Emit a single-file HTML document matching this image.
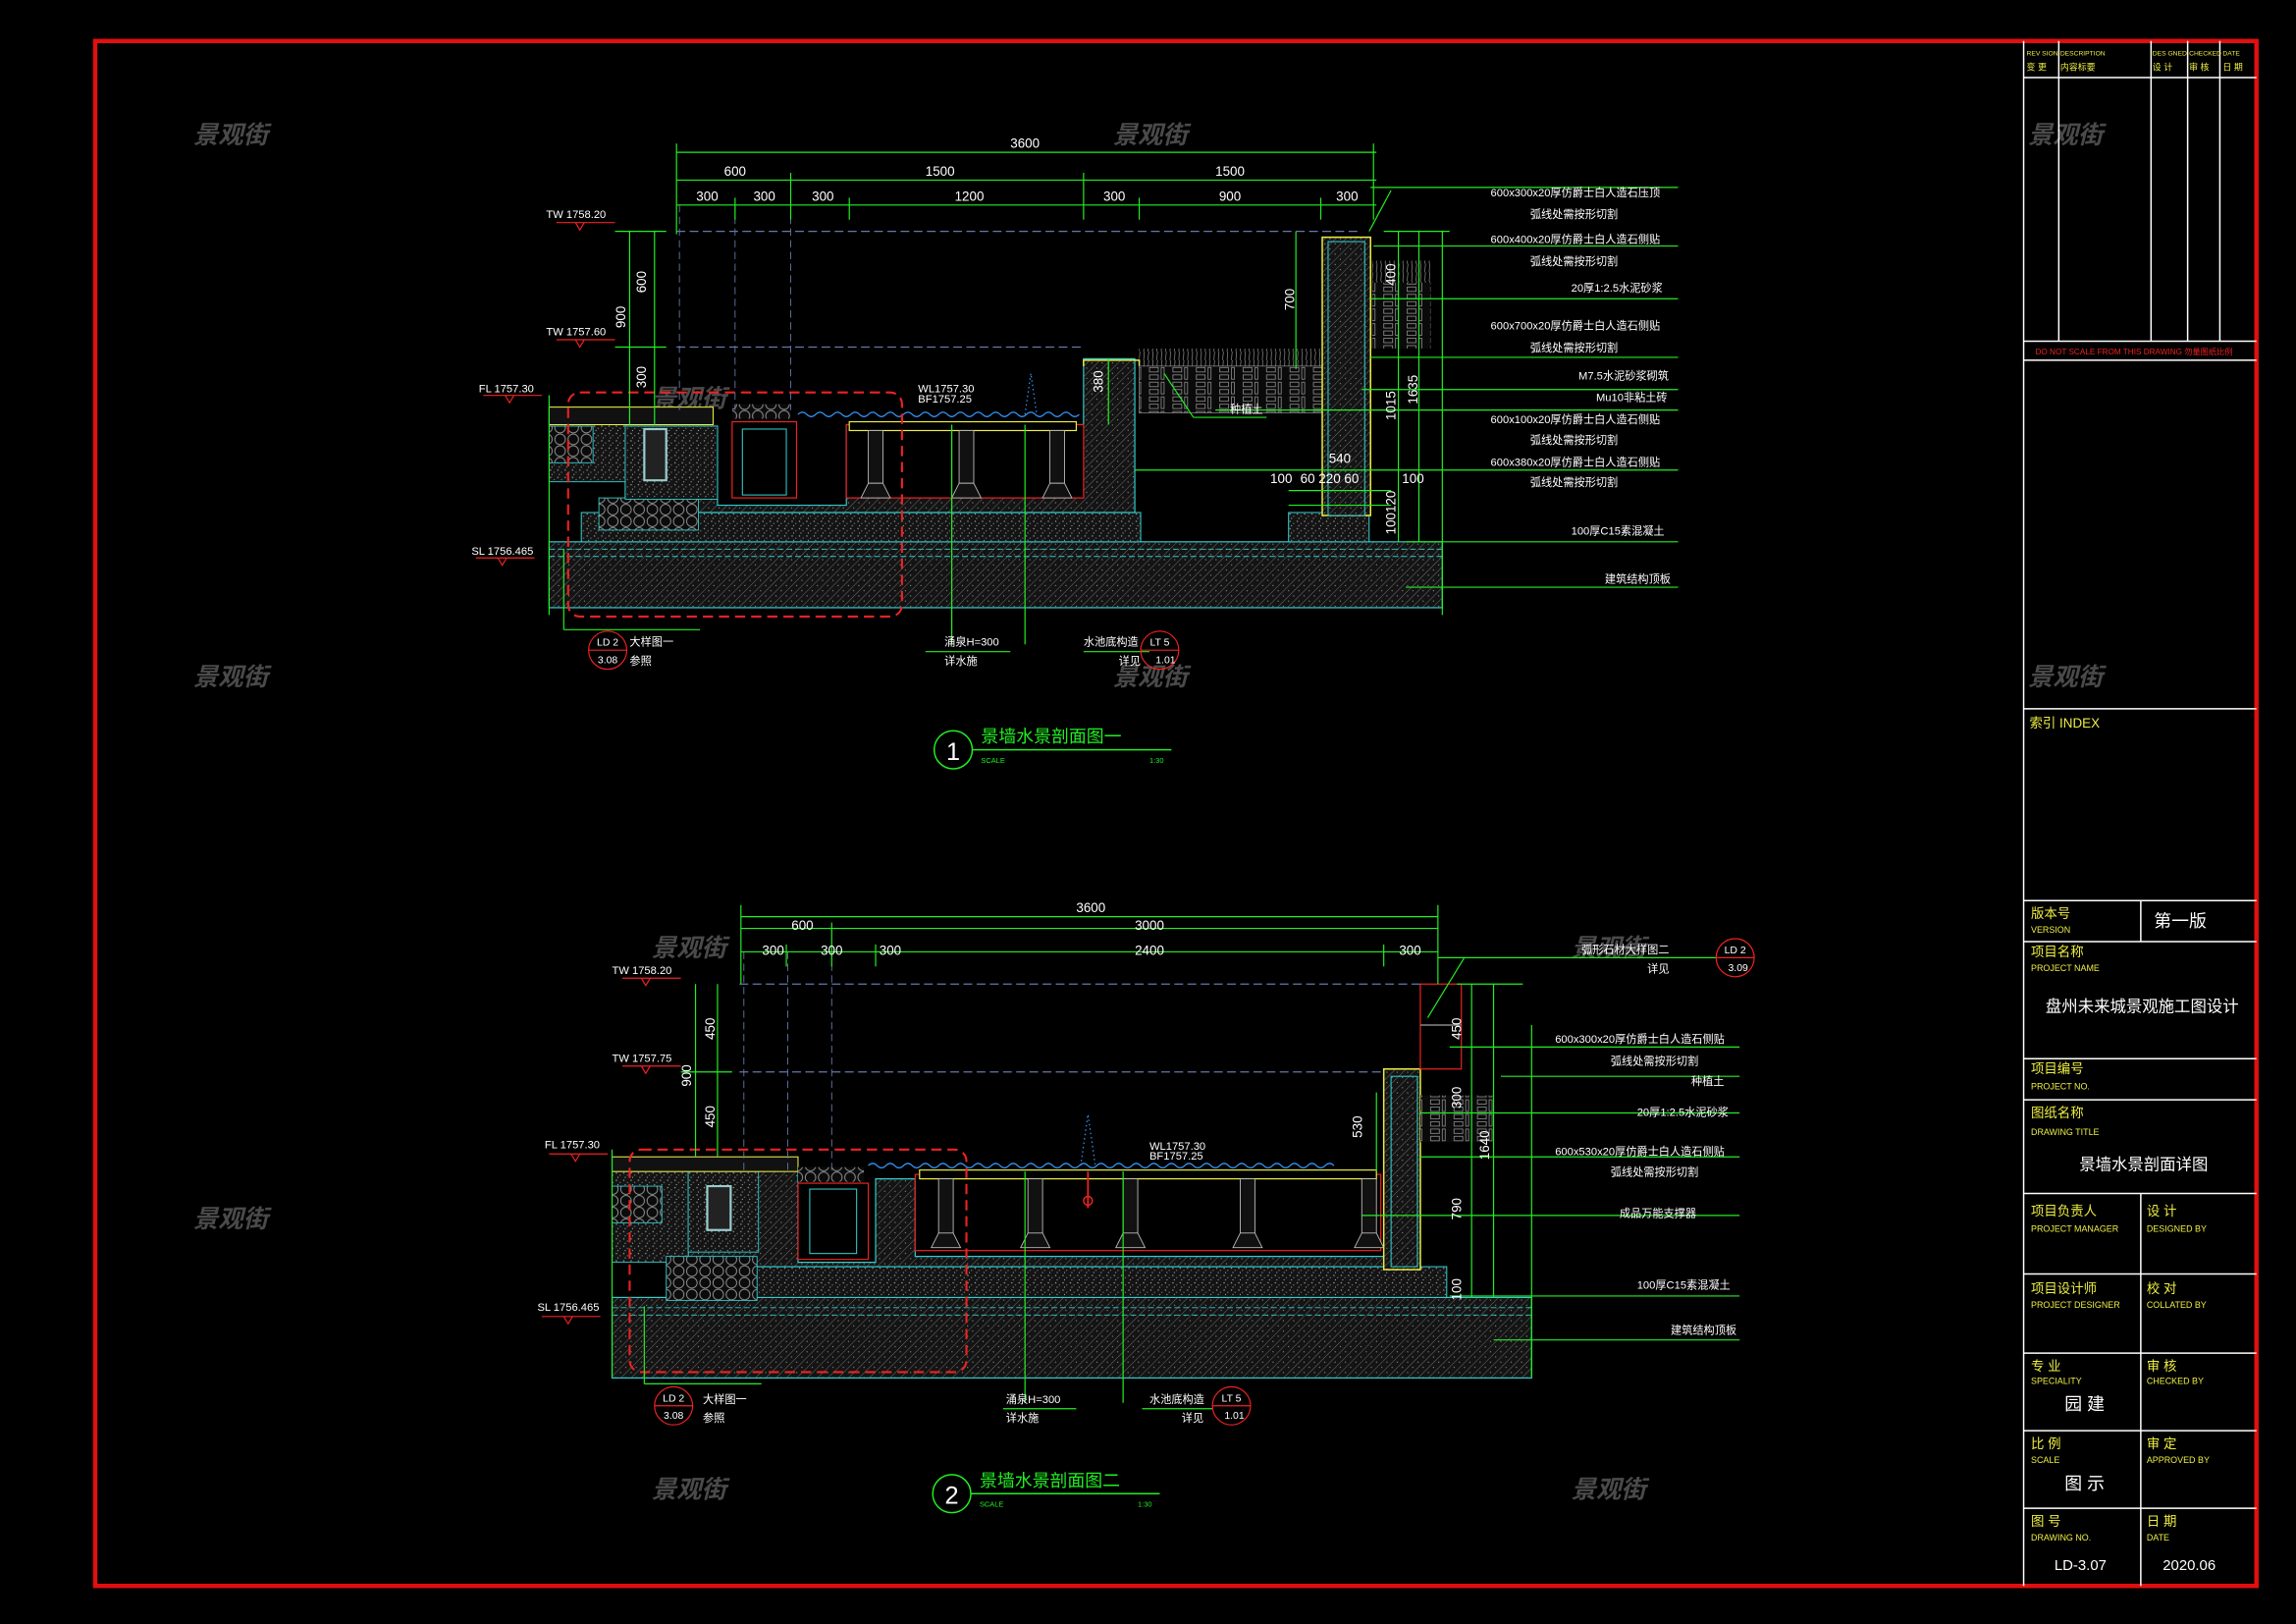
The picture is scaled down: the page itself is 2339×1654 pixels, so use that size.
<!DOCTYPE html>
<html><head><meta charset="utf-8"><style>
html,body{margin:0;padding:0;background:#000;}
svg{display:block;}
text{font-family:"Liberation Sans","Noto Sans CJK SC",sans-serif;}
</style></head><body>
<svg width="2339" height="1654" viewBox="0 0 1568 1109" preserveAspectRatio="none" xmlns="http://www.w3.org/2000/svg">
<defs>
<pattern id="h" width="5" height="5" patternUnits="userSpaceOnUse" patternTransform="rotate(45)">
<rect width="5" height="5" fill="#141414"/><line x1="0" y1="0" x2="0" y2="5" stroke="#777" stroke-width="0.6"/><circle cx="2.5" cy="3" r="0.4" fill="#999"/></pattern>
<pattern id="c" width="5" height="5" patternUnits="userSpaceOnUse">
<rect width="5" height="5" fill="#141414"/><circle cx="1" cy="1" r="0.5" fill="#999"/><circle cx="3.5" cy="2.5" r="0.4" fill="#888"/><circle cx="2" cy="4" r="0.4" fill="#aaa"/></pattern>
<pattern id="g" width="9" height="8" patternUnits="userSpaceOnUse">
<rect width="9" height="8" fill="#0b0b0b"/><circle cx="4.5" cy="4" r="3.6" fill="none" stroke="#999" stroke-width="0.6"/></pattern>
<pattern id="b" width="16" height="10" patternUnits="userSpaceOnUse">
<rect width="16" height="10" fill="#0a0a0a"/><rect x="1" y="1" width="6" height="3" fill="none" stroke="#999" stroke-width="0.5"/><rect x="9" y="1" width="2" height="8" fill="none" stroke="#999" stroke-width="0.5"/><rect x="1" y="6" width="6" height="3" fill="none" stroke="#999" stroke-width="0.5"/></pattern>
<pattern id="s" width="3" height="6" patternUnits="userSpaceOnUse"><line x1="1" y1="6" x2="1.5" y2="0" stroke="#aaa" stroke-width="0.4"/></pattern>
</defs>
<rect width="1568" height="1109" fill="#000"/>
<g fill="#4a4a4a" font-size="17" font-style="italic" font-weight="bold">
<text x="132" y="98">景观街</text><text x="760" y="98">景观街</text><text x="1385" y="98">景观街</text>
<text x="132" y="468">景观街</text><text x="760" y="468">景观街</text><text x="1385" y="468">景观街</text>
<text x="445" y="278">景观街</text><text x="445" y="653">景观街</text><text x="1073" y="653">景观街</text>
<text x="132" y="838">景观街</text><text x="760" y="838">景观街</text>
<text x="445" y="1023">景观街</text><text x="1073" y="1023">景观街</text>
</g>
<rect x="65" y="28" width="1476" height="1055" fill="none" stroke="#e01010" stroke-width="3"/>
<g stroke="#fff" stroke-width="1" fill="none">
<line x1="1382" y1="28" x2="1382" y2="1083"/>
<line x1="1406" y1="28" x2="1406" y2="233"/><line x1="1469" y1="28" x2="1469" y2="233"/>
<line x1="1494" y1="28" x2="1494" y2="233"/><line x1="1516" y1="28" x2="1516" y2="233"/>
<line x1="1382" y1="53" x2="1541" y2="53"/><line x1="1382" y1="233" x2="1541" y2="233"/>
<line x1="1382" y1="246" x2="1541" y2="246"/>
<line x1="1382" y1="484" x2="1541" y2="484"/>
<line x1="1382" y1="615" x2="1541" y2="615"/><line x1="1382" y1="643" x2="1541" y2="643"/>
<line x1="1382" y1="723" x2="1541" y2="723"/><line x1="1382" y1="751" x2="1541" y2="751"/>
<line x1="1382" y1="815" x2="1541" y2="815"/><line x1="1382" y1="870" x2="1541" y2="870"/>
<line x1="1382" y1="924" x2="1541" y2="924"/><line x1="1382" y1="977" x2="1541" y2="977"/>
<line x1="1382" y1="1030" x2="1541" y2="1030"/>
<line x1="1462" y1="615" x2="1462" y2="643"/><line x1="1462" y1="815" x2="1462" y2="1083"/>
</g>
<g fill="#ee4" font-size="4.5">
<text x="1384" y="38">REV SION</text><text x="1407" y="38">DESCRIPTION</text><text x="1470" y="38">DES GNED</text><text x="1495" y="38">CHECKED</text><text x="1518" y="38">DATE</text>
<text x="1384" y="48" font-size="6">变 更</text><text x="1407" y="48" font-size="6">内容标要</text><text x="1470" y="48" font-size="6">设 计</text><text x="1495" y="48" font-size="6">审 核</text><text x="1518" y="48" font-size="6">日 期</text>
</g>
<text x="1390" y="242" fill="#e22" font-size="5.5">DO NOT SCALE FROM THIS DRAWING  勿量图纸比例</text>
<g fill="#ee4" font-size="9">
<text x="1386" y="497">索引 INDEX</text>
<text x="1387" y="627">版本号</text><text x="1387" y="653">项目名称</text><text x="1387" y="733">项目编号</text>
<text x="1387" y="763">图纸名称</text><text x="1387" y="830">项目负责人</text><text x="1466" y="830">设 计</text>
<text x="1387" y="883">项目设计师</text><text x="1466" y="883">校 对</text>
<text x="1387" y="936">专 业</text><text x="1466" y="936">审 核</text>
<text x="1387" y="989">比 例</text><text x="1466" y="989">审 定</text>
<text x="1387" y="1042">图 号</text><text x="1466" y="1042">日 期</text>
</g>
<g fill="#ee4" font-size="6">
<text x="1387" y="637">VERSION</text><text x="1387" y="663">PROJECT NAME</text><text x="1387" y="744">PROJECT NO.</text>
<text x="1387" y="775">DRAWING TITLE</text><text x="1387" y="841">PROJECT MANAGER</text><text x="1466" y="841">DESIGNED BY</text>
<text x="1387" y="893">PROJECT DESIGNER</text><text x="1466" y="893">COLLATED BY</text>
<text x="1387" y="945">SPECIALITY</text><text x="1466" y="945">CHECKED BY</text>
<text x="1387" y="999">SCALE</text><text x="1466" y="999">APPROVED BY</text>
<text x="1387" y="1052">DRAWING NO.</text><text x="1466" y="1052">DATE</text>
</g>
<g fill="#fff" font-size="12">
<text x="1471" y="633">第一版</text>
<text x="1397" y="691" font-size="11">盘州未来城景观施工图设计</text>
<text x="1420" y="799" font-size="11">景墙水景剖面详图</text>
<text x="1410" y="963">园 建</text><text x="1410" y="1017">图 示</text>
<text x="1403" y="1072" font-size="10">LD-3.07</text><text x="1477" y="1072" font-size="10">2020.06</text>
</g>

<g id="s1">
<rect x="375" y="370" width="610" height="45" fill="url(#h)" stroke="#3cc" stroke-width="0.8"/>
<line x1="375" y1="375" x2="985" y2="375" stroke="#3cc" stroke-width="0.6" stroke-dasharray="4 2"/>
<line x1="375" y1="380" x2="985" y2="380" stroke="#3cc" stroke-width="0.6" stroke-dasharray="4 2"/>
<rect x="397" y="350" width="382" height="20" fill="url(#c)" stroke="#3cc" stroke-width="0.7"/>
<rect x="880" y="350" width="55" height="20" fill="url(#c)" stroke="#3cc" stroke-width="0.7"/>
<path d="M427 291 H490 V345 H578 V290 H740 V245 H775 V350 H427 Z" fill="url(#h)" stroke="#3cc" stroke-width="0.8"/>
<rect x="375" y="289" width="52" height="40" fill="url(#c)" stroke="#3cc" stroke-width="0.6"/>
<rect x="375" y="291" width="30" height="25" fill="url(#g)" stroke="#3cc" stroke-width="0.6"/>
<rect x="409" y="340" width="68" height="22" fill="url(#g)" stroke="#3cc" stroke-width="0.6"/>
<rect x="427" y="291" width="63" height="50" fill="url(#c)" stroke="#3cc" stroke-width="0.6"/>
<path d="M440 293 h15 v35 h-15 z" fill="#222" stroke="#9cc" stroke-width="1.5"/>
<rect x="375" y="278" width="112" height="12" fill="#111" stroke="#ee4" stroke-width="0.7"/>
<rect x="500" y="276" width="40" height="10" fill="url(#g)"/>
<rect x="500" y="288" width="44" height="52" fill="#000" stroke="#e22" stroke-width="0.8"/>
<rect x="507" y="293" width="30" height="45" fill="#000" stroke="#3cc" stroke-width="0.7"/>
<rect x="578" y="290" width="162" height="50" fill="#000" stroke="#e22" stroke-width="0.8"/>
<rect x="580" y="288" width="155" height="6" fill="#000" stroke="#ee4" stroke-width="0.8"/>
<g fill="#111" stroke="#bbb" stroke-width="0.6">
<rect x="593" y="294" width="10" height="36"/><rect x="655" y="294" width="10" height="36"/><rect x="717" y="294" width="10" height="36"/>
<path d="M588 340 l5 -10 h10 l5 10z M650 340 l5 -10 h10 l5 10z M712 340 l5 -10 h10 l5 10z"/>
</g>
<path d="M545 283 q3 -3 6 0 t6 0 t6 0 t6 0 t6 0 t6 0 t6 0 t6 0 t6 0 t6 0 t6 0 t6 0 t6 0 t6 0 t6 0 t6 0 t6 0 t6 0 t6 0 t6 0 t6 0 t6 0 t6 0 t6 0 t6 0 t6 0 t6 0 t6 0 t6 0 t6 0 t6 0 t6 0" fill="none" stroke="#39f" stroke-width="0.8"/>
<path d="M700 283 l4 -28 l4 28" fill="none" stroke="#39f" stroke-width="0.8" stroke-dasharray="1 2"/>
<path d="M740 250 V246 H778 V250" fill="none" stroke="#ee4" stroke-width="1"/>
<rect x="778" y="250" width="125" height="32" fill="url(#b)" stroke="#888" stroke-width="0.5"/>
<rect x="778" y="238" width="125" height="12" fill="url(#s)"/>
<rect x="903" y="162" width="33" height="190" fill="url(#h)" stroke="#ee4" stroke-width="1"/>
<rect x="907" y="165" width="25" height="187" fill="url(#h)" stroke="#3cc" stroke-width="0.7"/>
<rect x="937" y="193" width="40" height="45" fill="url(#b)"/>
<rect x="937" y="178" width="40" height="15" fill="url(#s)"/>
<rect x="388" y="268" width="228" height="153" rx="8" fill="none" stroke="#e22" stroke-width="1.4" stroke-dasharray="7 4"/>
<line x1="462" y1="158" x2="930" y2="158" stroke="#67a" stroke-width="0.8" stroke-dasharray="6 3"/>
<line x1="462" y1="237" x2="740" y2="237" stroke="#67a" stroke-width="0.8" stroke-dasharray="6 3"/>
<g stroke="#67a" stroke-width="0.6" stroke-dasharray="5 3">
<line x1="502" y1="140" x2="502" y2="280"/><line x1="540" y1="140" x2="540" y2="280"/><line x1="464" y1="140" x2="464" y2="280"/>
</g>
<g stroke="#2e2" stroke-width="0.8" fill="none">
<line x1="462" y1="104" x2="940" y2="104"/><line x1="462" y1="123" x2="940" y2="123"/><line x1="462" y1="140" x2="940" y2="140"/>
<line x1="462" y1="98" x2="462" y2="160"/><line x1="540" y1="118" x2="540" y2="150"/><line x1="502" y1="135" x2="502" y2="150"/>
<line x1="580" y1="135" x2="580" y2="150"/><line x1="740" y1="118" x2="740" y2="150"/><line x1="778" y1="135" x2="778" y2="150"/>
<line x1="902" y1="135" x2="902" y2="150"/><line x1="938" y1="98" x2="938" y2="150"/>
<line x1="430" y1="158" x2="430" y2="290"/><line x1="447" y1="158" x2="447" y2="290"/>
<line x1="420" y1="237" x2="455" y2="237"/><line x1="420" y1="158" x2="455" y2="158"/>
<line x1="885" y1="158" x2="885" y2="252"/><line x1="757" y1="245" x2="757" y2="290"/>
<line x1="955" y1="158" x2="955" y2="370"/><line x1="969" y1="158" x2="969" y2="370"/><line x1="985" y1="158" x2="985" y2="420"/>
<line x1="945" y1="158" x2="990" y2="158"/>
<line x1="880" y1="335" x2="950" y2="335"/><line x1="880" y1="345" x2="950" y2="345"/>
<line x1="936" y1="128" x2="1146" y2="128"/><line x1="938" y1="168" x2="1146" y2="168"/>
<line x1="936" y1="204" x2="1146" y2="204"/><line x1="936" y1="244" x2="1146" y2="244"/>
<line x1="930" y1="266" x2="1146" y2="266"/><line x1="830" y1="280" x2="1146" y2="280"/>
<line x1="775" y1="321" x2="1146" y2="321"/><line x1="960" y1="370" x2="1146" y2="370"/>
<line x1="960" y1="401" x2="1146" y2="401"/>
<line x1="795" y1="255" x2="815" y2="285"/><line x1="815" y1="285" x2="865" y2="285"/>
<line x1="935" y1="158" x2="950" y2="130"/>
<line x1="385" y1="375" x2="385" y2="430"/><line x1="385" y1="430" x2="478" y2="430"/>
<line x1="650" y1="290" x2="650" y2="440"/><line x1="632" y1="445" x2="690" y2="445"/>
<line x1="700" y1="290" x2="700" y2="440"/><line x1="740" y1="445" x2="785" y2="445"/>
<line x1="375" y1="270" x2="375" y2="420"/>
</g>
<g fill="#fff" font-size="9" text-anchor="middle">
<text x="700" y="101">3600</text><text x="502" y="120">600</text><text x="642" y="120">1500</text><text x="840" y="120">1500</text>
<text x="483" y="137">300</text><text x="522" y="137">300</text><text x="562" y="137">300</text><text x="662" y="137">1200</text>
<text x="761" y="137">300</text><text x="840" y="137">900</text><text x="920" y="137">300</text>
<text x="915" y="316">540</text><text x="875" y="330">100</text><text x="908" y="330">60 220 60</text><text x="965" y="330">100</text>
</g>
<g fill="#fff" font-size="9">
<text transform="translate(441,200) rotate(-90)">600</text><text transform="translate(427,224) rotate(-90)">900</text>
<text transform="translate(441,265) rotate(-90)">300</text><text transform="translate(884,212) rotate(-90)">700</text>
<text transform="translate(753,268) rotate(-90)">380</text><text transform="translate(953,195) rotate(-90)">400</text>
<text transform="translate(953,287) rotate(-90)">1015</text><text transform="translate(968,276) rotate(-90)">1635</text>
<text transform="translate(953,365) rotate(-90)">100120</text>
</g>
<g fill="#fff" font-size="7.5">
<text x="373" y="149">TW 1758.20</text><text x="373" y="229">TW 1757.60</text><text x="327" y="268">FL 1757.30</text><text x="322" y="379">SL 1756.465</text>
<text x="627" y="268">WL1757.30</text><text x="627" y="275">BF1757.25</text>
<text x="840" y="282">种植土</text>
<text x="430" y="441">大样图一</text><text x="430" y="454">参照</text>
<text x="645" y="441">涌泉H=300</text><text x="645" y="454">详水施</text>
<text x="740" y="441">水池底构造</text><text x="764" y="454">详见</text>
</g>
<g stroke="#e22" fill="none" stroke-width="0.8">
<path d="M380 152 h40 M393 152 l3 5 l3 -5 M380 232 h40 M393 232 l3 5 l3 -5 M330 270 h40 M345 270 l3 5 l3 -5 M325 381 h40 M340 381 l3 5 l3 -5"/>
<circle cx="415" cy="444" r="13"/><line x1="402" y1="444" x2="428" y2="444"/>
<circle cx="792" cy="444" r="13"/><line x1="779" y1="444" x2="805" y2="444"/>
</g>
<g fill="#fff" font-size="7" text-anchor="middle">
<text x="415" y="441">LD 2</text><text x="415" y="453">3.08</text><text x="792" y="441">LT 5</text><text x="796" y="453">1.01</text>
</g>
<g fill="#fff" font-size="7.5">
<text x="1018" y="134">600x300x20厚仿爵士白人造石压顶</text><text x="1045" y="149">弧线处需按形切割</text>
<text x="1018" y="166">600x400x20厚仿爵士白人造石侧贴</text><text x="1045" y="181">弧线处需按形切割</text>
<text x="1073" y="199">20厚1:2.5水泥砂浆</text>
<text x="1018" y="225">600x700x20厚仿爵士白人造石侧贴</text><text x="1045" y="240">弧线处需按形切割</text>
<text x="1078" y="259">M7.5水泥砂浆砌筑</text><text x="1090" y="274">Mu10非粘土砖</text>
<text x="1018" y="289">600x100x20厚仿爵士白人造石侧贴</text><text x="1045" y="303">弧线处需按形切割</text>
<text x="1018" y="318">600x380x20厚仿爵士白人造石侧贴</text><text x="1045" y="332">弧线处需按形切割</text>
<text x="1073" y="365">100厚C15素混凝土</text><text x="1096" y="398">建筑结构顶板</text>
</g>
<circle cx="651" cy="512" r="13" fill="none" stroke="#2e2" stroke-width="1"/>
<text x="651" y="519" fill="#fff" font-size="17" text-anchor="middle">1</text>
<line x1="664" y1="512" x2="800" y2="512" stroke="#2e2"/>
<text x="670" y="507" fill="#2e2" font-size="12">景墙水景剖面图一</text>
<text x="670" y="521" fill="#2e2" font-size="5">SCALE</text><text x="785" y="521" fill="#2e2" font-size="5">1:30</text>
</g>

<g id="s2">
<rect x="418" y="886" width="628" height="55" fill="url(#h)" stroke="#3cc" stroke-width="0.8"/>
<line x1="418" y1="893" x2="1046" y2="893" stroke="#3cc" stroke-width="0.6" stroke-dasharray="4 2"/>
<line x1="418" y1="898" x2="1046" y2="898" stroke="#3cc" stroke-width="0.6" stroke-dasharray="4 2"/>
<rect x="508" y="865" width="480" height="21" fill="url(#c)" stroke="#3cc" stroke-width="0.7"/>
<path d="M470 797 H545 V862 H598 V805 H625 V858 H945 V740 H968 V865 H470 Z" fill="url(#h)" stroke="#3cc" stroke-width="0.8"/>
<rect x="418" y="800" width="52" height="62" fill="url(#c)" stroke="#3cc" stroke-width="0.6"/>
<rect x="418" y="810" width="34" height="25" fill="url(#g)" stroke="#3cc" stroke-width="0.6"/>
<rect x="455" y="858" width="62" height="30" fill="url(#g)" stroke="#3cc" stroke-width="0.6"/>
<rect x="470" y="800" width="48" height="55" fill="url(#c)" stroke="#3cc" stroke-width="0.6"/>
<path d="M483 810 h16 v30 h-16 z" fill="#222" stroke="#9cc" stroke-width="1.5"/>
<rect x="418" y="790" width="127" height="10" fill="#111" stroke="#ee4" stroke-width="0.7"/>
<rect x="545" y="797" width="45" height="10" fill="url(#g)"/>
<rect x="545" y="808" width="48" height="52" fill="#000" stroke="#e22" stroke-width="0.8"/>
<rect x="553" y="812" width="32" height="44" fill="#000" stroke="#3cc" stroke-width="0.7"/>
<rect x="625" y="802" width="318" height="52" fill="#000" stroke="#e22" stroke-width="0.8"/>
<rect x="628" y="799" width="312" height="6" fill="#000" stroke="#ee4" stroke-width="0.8"/>
<g fill="#111" stroke="#bbb" stroke-width="0.6">
<rect x="641" y="805" width="10" height="38"/><rect x="702" y="805" width="10" height="38"/><rect x="767" y="805" width="10" height="38"/><rect x="847" y="805" width="10" height="38"/><rect x="930" y="805" width="10" height="38"/>
<path d="M636 852 l5 -10 h10 l5 10z M697 852 l5 -10 h10 l5 10z M762 852 l5 -10 h10 l5 10z M842 852 l5 -10 h10 l5 10z M925 852 l5 -10 h10 l5 10z"/>
</g>
<path d="M593 796 q3 -3 6 0 t6 0 t6 0 t6 0 t6 0 t6 0 t6 0 t6 0 t6 0 t6 0 t6 0 t6 0 t6 0 t6 0 t6 0 t6 0 t6 0 t6 0 t6 0 t6 0 t6 0 t6 0 t6 0 t6 0 t6 0 t6 0 t6 0 t6 0 t6 0 t6 0 t6 0 t6 0 t6 0 t6 0 t6 0 t6 0 t6 0 t6 0 t6 0 t6 0 t6 0 t6 0 t6 0 t6 0 t6 0 t6 0 t6 0 t6 0 t6 0 t6 0 t6 0 t6 0 t6 0" fill="none" stroke="#39f" stroke-width="0.8"/>
<path d="M738 796 l5 -35 l5 35" fill="none" stroke="#39f" stroke-width="0.8" stroke-dasharray="1 2"/>
<path d="M743 800 v25" stroke="#e22" stroke-width="1.2"/><circle cx="743" cy="820" r="3" fill="none" stroke="#e22"/>
<rect x="945" y="730" width="25" height="137" fill="url(#h)" stroke="#ee4" stroke-width="1"/>
<rect x="950" y="735" width="18" height="130" fill="url(#h)" stroke="#3cc" stroke-width="0.7"/>
<rect x="970" y="748" width="50" height="32" fill="url(#b)"/>
<rect x="970" y="672" width="28" height="58" fill="none" stroke="#e22" stroke-width="0.8"/>
<line x1="970" y1="700" x2="998" y2="700" stroke="#888"/>
<rect x="430" y="785" width="230" height="152" rx="8" fill="none" stroke="#e22" stroke-width="1.4" stroke-dasharray="7 4"/>
<line x1="505" y1="672" x2="970" y2="672" stroke="#67a" stroke-width="0.8" stroke-dasharray="6 3"/>
<line x1="505" y1="732" x2="945" y2="732" stroke="#67a" stroke-width="0.8" stroke-dasharray="6 3"/>
<g stroke="#67a" stroke-width="0.6" stroke-dasharray="5 3">
<line x1="508" y1="650" x2="508" y2="800"/><line x1="538" y1="650" x2="538" y2="800"/><line x1="568" y1="650" x2="568" y2="800"/>
</g>
<g stroke="#2e2" stroke-width="0.8" fill="none">
<line x1="506" y1="626" x2="982" y2="626"/><line x1="506" y1="634" x2="982" y2="634"/><line x1="506" y1="650" x2="982" y2="650"/>
<line x1="506" y1="618" x2="506" y2="672"/><line x1="568" y1="630" x2="568" y2="660"/><line x1="537" y1="645" x2="537" y2="660"/>
<line x1="598" y1="645" x2="598" y2="660"/><line x1="945" y1="645" x2="945" y2="660"/><line x1="982" y1="618" x2="982" y2="672"/>
<line x1="475" y1="672" x2="475" y2="790"/><line x1="490" y1="672" x2="490" y2="790"/>
<line x1="465" y1="732" x2="500" y2="732"/>
<line x1="940" y1="746" x2="940" y2="800"/>
<line x1="1005" y1="672" x2="1005" y2="886"/><line x1="1020" y1="672" x2="1020" y2="886"/><line x1="1046" y1="700" x2="1046" y2="940"/>
<line x1="995" y1="672" x2="1040" y2="672"/>
<line x1="982" y1="654" x2="1172" y2="654"/><line x1="975" y1="695" x2="1000" y2="654"/>
<line x1="990" y1="715" x2="1188" y2="715"/><line x1="1025" y1="735" x2="1188" y2="735"/>
<line x1="970" y1="760" x2="1188" y2="760"/><line x1="970" y1="790" x2="1188" y2="790"/>
<line x1="930" y1="830" x2="1188" y2="830"/><line x1="990" y1="885" x2="1188" y2="885"/>
<line x1="1020" y1="915" x2="1188" y2="915"/>
<line x1="418" y1="785" x2="418" y2="940"/>
<line x1="440" y1="892" x2="440" y2="945"/><line x1="440" y1="945" x2="520" y2="945"/>
<line x1="700" y1="800" x2="700" y2="958"/><line x1="685" y1="962" x2="735" y2="962"/>
<line x1="767" y1="800" x2="767" y2="958"/><line x1="780" y1="962" x2="828" y2="962"/>
</g>
<g fill="#fff" font-size="9" text-anchor="middle">
<text x="745" y="623">3600</text><text x="548" y="635">600</text><text x="785" y="635">3000</text>
<text x="528" y="652">300</text><text x="568" y="652">300</text><text x="608" y="652">300</text><text x="785" y="652">2400</text><text x="963" y="652">300</text>
</g>
<g fill="#fff" font-size="9">
<text transform="translate(488,710) rotate(-90)">450</text><text transform="translate(472,742) rotate(-90)">900</text>
<text transform="translate(488,770) rotate(-90)">450</text><text transform="translate(930,777) rotate(-90)">530</text>
<text transform="translate(998,710) rotate(-90)">450</text><text transform="translate(998,757) rotate(-90)">300</text>
<text transform="translate(1017,792) rotate(-90)">1640</text><text transform="translate(998,833) rotate(-90)">790</text>
<text transform="translate(998,888) rotate(-90)">100</text>
</g>
<g fill="#fff" font-size="7.5">
<text x="418" y="665">TW 1758.20</text><text x="418" y="725">TW 1757.75</text><text x="372" y="784">FL 1757.30</text><text x="367" y="895">SL 1756.465</text>
<text x="785" y="785">WL1757.30</text><text x="785" y="792">BF1757.25</text>
<text x="1080" y="651">弧形石材大样图二</text><text x="1125" y="664">详见</text>
<text x="1062" y="712">600x300x20厚仿爵士白人造石侧贴</text><text x="1100" y="727">弧线处需按形切割</text><text x="1155" y="741">种植土</text>
<text x="1118" y="762">20厚1:2.5水泥砂浆</text>
<text x="1062" y="789">600x530x20厚仿爵士白人造石侧贴</text><text x="1100" y="803">弧线处需按形切割</text>
<text x="1106" y="831">成品万能支撑器</text><text x="1118" y="880">100厚C15素混凝土</text><text x="1141" y="911">建筑结构顶板</text>
<text x="480" y="958">大样图一</text><text x="480" y="971">参照</text>
<text x="687" y="958">涌泉H=300</text><text x="687" y="971">详水施</text>
<text x="785" y="958">水池底构造</text><text x="807" y="971">详见</text>
</g>
<g stroke="#e22" fill="none" stroke-width="0.8">
<path d="M425 668 h40 M438 668 l3 5 l3 -5 M425 728 h40 M438 728 l3 5 l3 -5 M375 788 h40 M390 788 l3 5 l3 -5 M370 899 h40 M385 899 l3 5 l3 -5"/>
<circle cx="460" cy="960" r="13"/><line x1="447" y1="960" x2="473" y2="960"/>
<circle cx="841" cy="960" r="13"/><line x1="828" y1="960" x2="854" y2="960"/>
<circle cx="1185" cy="654" r="13"/><line x1="1172" y1="654" x2="1198" y2="654"/>
</g>
<g fill="#fff" font-size="7" text-anchor="middle">
<text x="460" y="957">LD 2</text><text x="460" y="969">3.08</text><text x="841" y="957">LT 5</text><text x="843" y="969">1.01</text>
<text x="1185" y="651">LD 2</text><text x="1187" y="663">3.09</text>
</g>
<circle cx="650" cy="1020" r="13" fill="none" stroke="#2e2" stroke-width="1"/>
<text x="650" y="1027" fill="#fff" font-size="17" text-anchor="middle">2</text>
<line x1="663" y1="1020" x2="792" y2="1020" stroke="#2e2"/>
<text x="669" y="1015" fill="#2e2" font-size="12">景墙水景剖面图二</text>
<text x="669" y="1029" fill="#2e2" font-size="5">SCALE</text><text x="777" y="1029" fill="#2e2" font-size="5">1:30</text>
</g>
</svg>
</body></html>
